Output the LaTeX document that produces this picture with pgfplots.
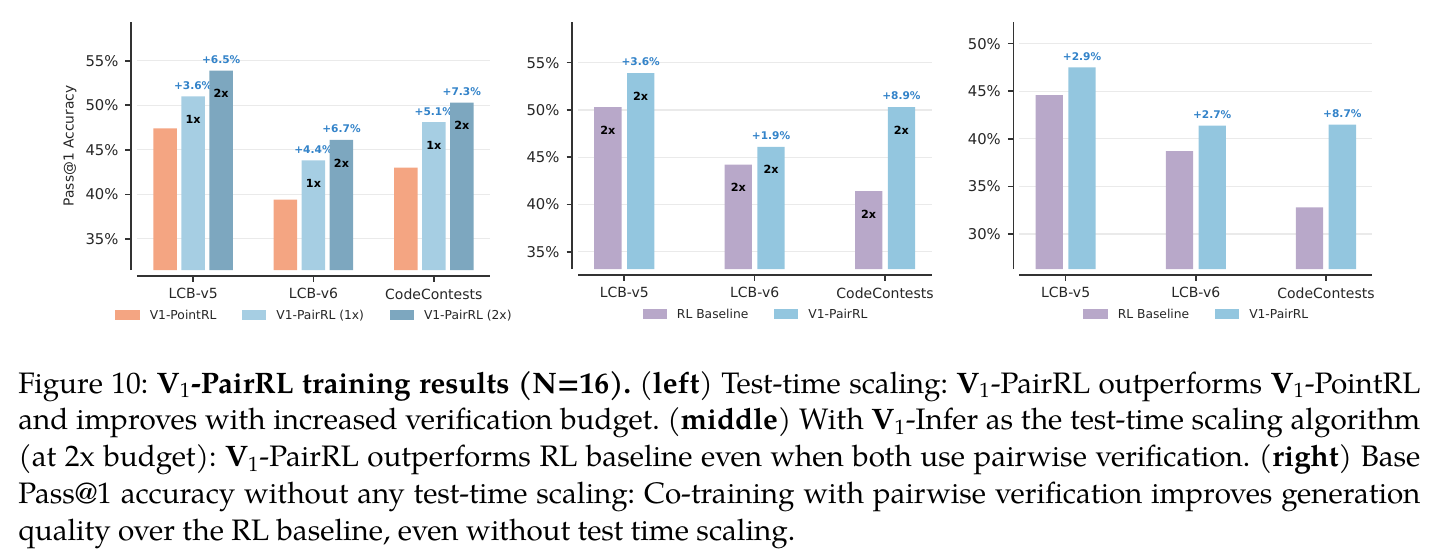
\documentclass[border=0pt]{standalone}
\usepackage{pgfplots}
\pgfplotsset{compat=1.18}
\usepackage{fontspec}
\newfontfamily\dejavu{DejaVu Sans}
\newfontfamily\capfont{TeX Gyre Pagella}
\definecolor{corange}{HTML}{F4A582}
\definecolor{clight}{HTML}{A6CEE3}
\definecolor{cdark}{HTML}{7DA7BF}
\definecolor{cpurple}{HTML}{B8A8C9}
\definecolor{csky}{HTML}{93C6DF}
\definecolor{annblue}{HTML}{3383C9}
\definecolor{spinec}{HTML}{333333}
\definecolor{tickc}{HTML}{262626}
\definecolor{gridc}{HTML}{EAEAEA}
\newcommand\Vone{{\bfseries V}\textsubscript{\mdseries 1}}
\tikzset{inlab/.style={font=\dejavu\bfseries\fontsize{5.6}{6}\selectfont, text=black,
      anchor=center, inner sep=0pt, yshift=-11.5pt}}
\pgfplotsset{
  /pgfplots/ybar legend/.style={/pgfplots/legend image code/.code={\fill[##1] (0pt,-2.35pt) rectangle (12.2pt,2.35pt);}},
  panel/.style={
    scale only axis, anchor=north west,
    axis x line*=bottom, axis y line*=left,
    axis line style={draw=none},
    tick align=outside,
    major tick length=2.75pt,
    tick style={color=spinec, line width=0.8pt},
    xtick style={yshift=-3pt}, ytick style={xshift=-3pt},
    xtick={0,1,2}, xticklabels={LCB-v5,LCB-v6,CodeContests},
    xticklabel style={font=\dejavu\fontsize{7}{8}\selectfont, text=tickc, yshift=-3pt},
    yticklabel style={font=\dejavu\fontsize{7.4}{8}\selectfont, text=tickc, xshift=-3pt},
    ymajorgrids, major grid style={color=gridc, line width=0.6pt},
    clip mode=individual,
    legend columns=-1,
    legend cell align=left,
    legend style={draw=none, fill=none, at={(0.5,0)}, anchor=center, yshift=-22.5pt,
      font=\dejavu\fontsize{6.15}{7}\selectfont, text=tickc,
      nodes={inner sep=0pt, text depth=0pt},
      /tikz/every odd column/.append style={column sep=5pt},
      /tikz/every even column/.append style={column sep=12.8pt}},
  },
  pct/.style={nodes near coords, point meta=explicit symbolic,
    every node near coord/.append style={font=\dejavu\bfseries\fontsize{5.3}{6}\selectfont,
      text=annblue, anchor=south, inner sep=0pt, yshift=3.3pt}},
}
\begin{document}
\begin{tikzpicture}
\useasboundingbox (0pt,0pt) rectangle (718.5pt,-276pt);
% ---------------- left panel
\begin{axis}[panel, at={(68.5pt,-11pt)}, width=176.5pt, height=124pt,
  ybar=2.25pt, bar width=11.75pt,
  xmin=-0.467, xmax=2.467, ymin=31.5, ymax=59.35,
  ytick={35,40,45,50,55}, yticklabels={35\%,40\%,45\%,50\%,55\%},
  ylabel={Pass@1 Accuracy},
  every axis y label/.style={at={(rel axis cs:0,0.5)}, xshift=-33.5pt, rotate=90, anchor=center,
    font=\dejavu\fontsize{6.9}{8}\selectfont, text=tickc},
]
\addplot[fill=corange, draw=none] coordinates {(0,47.4) (1,39.4) (2,43.0)};
\addlegendentry{V1-PointRL}
\addplot[fill=clight, draw=none, pct] coordinates {(0,51.0) [+3.6\%] (1,43.8) [+4.4\%] (2,48.1) [+5.1\%]};
\addlegendentry{V1-PairRL (1x)}
\addplot[fill=cdark, draw=none, pct] coordinates {(0,53.9) [+6.5\%] (1,46.1) [+6.7\%] (2,50.3) [+7.3\%]};
\addlegendentry{V1-PairRL (2x)}
\node[inlab] at (axis cs:0,51.0) {1x};
\node[inlab] at (axis cs:1,43.8) {1x};
\node[inlab] at (axis cs:2,48.1) {1x};
\node[inlab, xshift=14pt] at (axis cs:0,53.9) {2x};
\node[inlab, xshift=14pt] at (axis cs:1,46.1) {2x};
\node[inlab, xshift=14pt] at (axis cs:2,50.3) {2x};
\draw[spinec, line width=0.8pt] ([xshift=-3pt]rel axis cs:0,0) -- ([xshift=-3pt]rel axis cs:0,1);
\draw[spinec, line width=0.8pt] ([yshift=-3pt]rel axis cs:0,0) -- ([yshift=-3pt]rel axis cs:1,0);
\end{axis}
% ---------------- middle panel
\begin{axis}[panel, at={(289pt,-11pt)}, width=177pt, height=123.5pt,
  ybar=2.75pt, bar width=13.65pt,
  xmin=-0.355, xmax=2.36, ymin=33.17, ymax=59.3,
  ytick={35,40,45,50,55}, yticklabels={35\%,40\%,45\%,50\%,55\%},
]
\addplot[fill=cpurple, draw=none] coordinates {(0,50.3) (1,44.2) (2,41.4)};
\addlegendentry{RL Baseline}
\addplot[fill=csky, draw=none, pct] coordinates {(0,53.9) [+3.6\%] (1,46.1) [+1.9\%] (2,50.3) [+8.9\%]};
\addlegendentry{V1-PairRL}
\node[inlab, xshift=-8.2pt] at (axis cs:0,50.3) {2x};
\node[inlab, xshift=-8.2pt] at (axis cs:1,44.2) {2x};
\node[inlab, xshift=-8.2pt] at (axis cs:2,41.4) {2x};
\node[inlab, xshift=8.2pt] at (axis cs:0,53.9) {2x};
\node[inlab, xshift=8.2pt] at (axis cs:1,46.1) {2x};
\node[inlab, xshift=8.2pt] at (axis cs:2,50.3) {2x};
\draw[spinec, line width=0.8pt] ([xshift=-3pt]rel axis cs:0,0) -- ([xshift=-3pt]rel axis cs:0,1);
\draw[spinec, line width=0.8pt] ([yshift=-3pt]rel axis cs:0,0) -- ([yshift=-3pt]rel axis cs:1,0);
\end{axis}
% ---------------- right panel
\begin{axis}[panel, at={(509.65pt,-11pt)}, width=176.5pt, height=123.5pt,
  ybar=2.75pt, bar width=13.65pt,
  xmin=-0.356, xmax=2.356, ymin=26.32, ymax=52.28,
  ytick={30,35,40,45,50}, yticklabels={30\%,35\%,40\%,45\%,50\%},
]
\addplot[fill=cpurple, draw=none] coordinates {(0,44.6) (1,38.7) (2,32.8)};
\addlegendentry{RL Baseline}
\addplot[fill=csky, draw=none, pct] coordinates {(0,47.5) [+2.9\%] (1,41.4) [+2.7\%] (2,41.5) [+8.7\%]};
\addlegendentry{V1-PairRL}
\draw[spinec, line width=0.8pt] ([xshift=-3pt]rel axis cs:0,0) -- ([xshift=-3pt]rel axis cs:0,1);
\draw[spinec, line width=0.8pt] ([yshift=-3pt]rel axis cs:0,0) -- ([yshift=-3pt]rel axis cs:1,0);
\end{axis}
% ---------------- caption
\node[anchor=base west, inner sep=0pt] at (9pt,-196.5pt) {\parbox[t]{701pt}{\capfont\fontsize{14.8}{18.4}\selectfont\frenchspacing
\makebox[701pt][s]{Figure 10: \textbf{\Vone-PairRL training results (N=16).} (\textbf{left}) Test-time scaling: \Vone-PairRL outperforms \Vone-PointRL}\\
\makebox[701pt][s]{and improves with increased verification budget. (\textbf{middle}) With \Vone-Infer as the test-time scaling algorithm}\\
\makebox[701pt][s]{(at 2x budget): \Vone-PairRL outperforms RL baseline even when both use pairwise verification. (\textbf{right}) Base}\\
\makebox[701pt][s]{Pass@1 accuracy without any test-time scaling: Co-training with pairwise verification improves generation}\\
quality over the RL baseline, even without test time scaling.}};
\end{tikzpicture}
\end{document}
